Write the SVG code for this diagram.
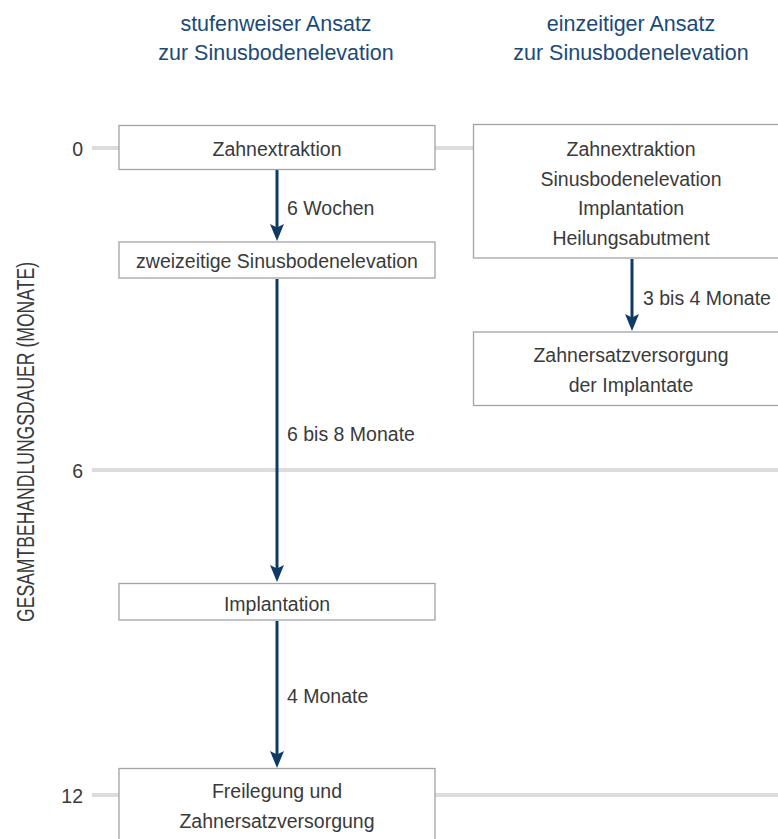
<svg xmlns="http://www.w3.org/2000/svg" width="778" height="839" viewBox="0 0 778 839">
<style>
.grid{stroke:#dcdcdc;stroke-width:4;fill:none}
.box{fill:#fff;stroke:#a3a3a3;stroke-width:1.3}
.t{font-family:"Liberation Sans",Arial,sans-serif;font-size:19.5px;fill:#3a3a3a;text-anchor:middle}
.lbl{font-family:"Liberation Sans",Arial,sans-serif;font-size:19.5px;fill:#3a3a3a}
.ax{font-family:"Liberation Sans",Arial,sans-serif;font-size:23px;fill:#3a3a3a;text-anchor:middle}
.hd{font-family:"Liberation Sans",Arial,sans-serif;font-size:21.5px;fill:#1c4a78;text-anchor:middle}
.arr{stroke:#0f3a66;stroke-width:3;fill:none}
</style>
<defs>
<marker id="ah" viewBox="0 0 18 14" refX="7" refY="7" markerWidth="18" markerHeight="14" markerUnits="userSpaceOnUse" orient="auto">
<path d="M0,0 L3.5,7 L0,14 L17,7 Z" fill="#0f3a66"/>
</marker>
</defs>
<rect width="778" height="839" fill="#fff"/>
<g id="headers">
<text class="hd" x="276" y="31">stufenweiser Ansatz</text>
<text class="hd" x="276" y="60">zur Sinusbodenelevation</text>
<text class="hd" x="631" y="31">einzeitiger Ansatz</text>
<text class="hd" x="631" y="60">zur Sinusbodenelevation</text>
</g>
<g id="axis">
<text class="ax" x="33.5" y="442" transform="rotate(-90 33.5 442)" textLength="360" lengthAdjust="spacingAndGlyphs">GESAMTBEHANDLUNGSDAUER (MONATE)</text>
<line class="grid" x1="92" y1="148" x2="778" y2="148"/>
<line class="grid" x1="92" y1="470" x2="778" y2="470"/>
<line class="grid" x1="92" y1="795" x2="778" y2="795"/>
<text class="lbl" x="83" y="156" text-anchor="end">0</text>
<text class="lbl" x="83" y="478" text-anchor="end">6</text>
<text class="lbl" x="83" y="803" text-anchor="end">12</text>
</g>
<g id="connectors">
<line class="arr" x1="277" y1="170" x2="277" y2="231" marker-end="url(#ah)"/>
<line class="arr" x1="277" y1="279" x2="277" y2="572" marker-end="url(#ah)"/>
<line class="arr" x1="277" y1="621" x2="277" y2="758" marker-end="url(#ah)"/>
<line class="arr" x1="632" y1="259" x2="632" y2="321" marker-end="url(#ah)"/>
<text class="lbl" x="287" y="215">6 Wochen</text>
<text class="lbl" x="287" y="441">6 bis 8 Monate</text>
<text class="lbl" x="287" y="703">4 Monate</text>
<text class="lbl" x="643" y="305">3 bis 4 Monate</text>
</g>
<g id="n1">
<rect class="box" x="119" y="125.5" width="316" height="44"/>
<text class="t" x="277" y="156">Zahnextraktion</text>
</g>
<g id="n2">
<rect class="box" x="119" y="242" width="316" height="36"/>
<text class="t" x="277" y="268">zweizeitige Sinusbodenelevation</text>
</g>
<g id="n3">
<rect class="box" x="119" y="583.5" width="316" height="36.5"/>
<text class="t" x="277" y="611">Implantation</text>
</g>
<g id="n4">
<rect class="box" x="119" y="768.5" width="316" height="80"/>
<text class="t" x="277" y="798">Freilegung und</text>
<text class="t" x="277" y="828">Zahnersatzversorgung</text>
</g>
<g id="n5">
<rect class="box" x="473.5" y="124.5" width="320" height="133.5"/>
<text class="t" x="631" y="156">Zahnextraktion</text>
<text class="t" x="631" y="185.5">Sinusbodenelevation</text>
<text class="t" x="631" y="215">Implantation</text>
<text class="t" x="631" y="244.5">Heilungsabutment</text>
</g>
<g id="n6">
<rect class="box" x="473.5" y="332" width="320" height="73.5"/>
<text class="t" x="631" y="362">Zahnersatzversorgung</text>
<text class="t" x="631" y="391.5">der Implantate</text>
</g>
</svg>
